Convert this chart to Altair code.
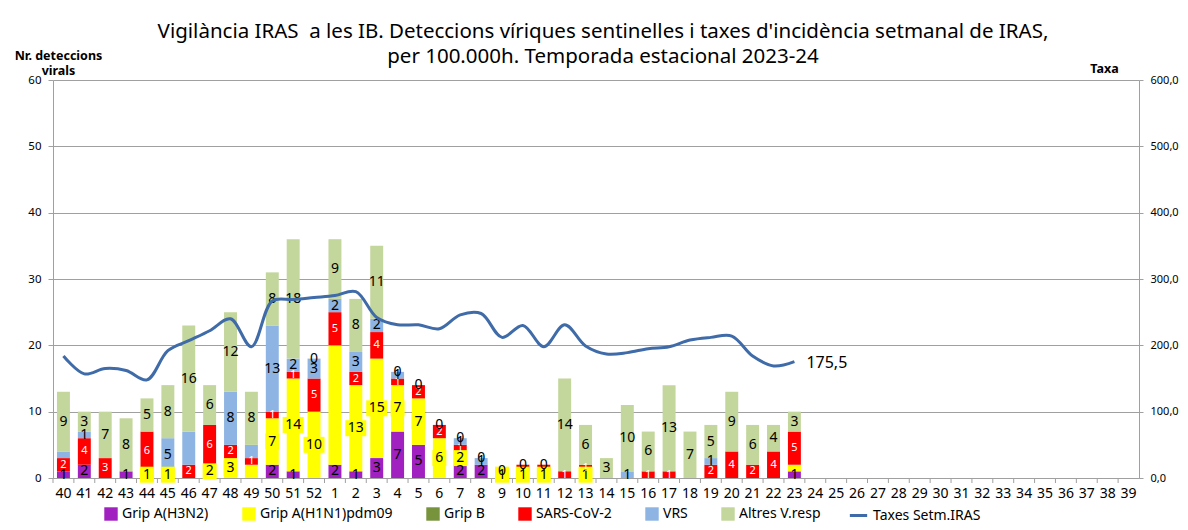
import altair as alt
import pandas as pd

# ---------------- data ----------------
weeks = [str(w) for w in list(range(40, 53)) + list(range(1, 40))]
data_weeks = weeks[:36]  # 40 .. 23

h3n2   = [1, 2, 0, 1, 0, 0, 0, 0, 0, 0, 2, 1, 0, 2, 1, 3, 7, 5, 0, 2, 2, 0, 0, 0, 0, 0, 0, 0, 0, 0, 0, 0, 0, 0, 0, 1]
h1n1   = [0, 0, 0, 0, 1, 1, 0, 2, 3, 2, 7, 14, 10, 18, 13, 15, 7, 7, 6, 2, 0, 1, 1, 1, 0, 1, 0, 0, 0, 0, 0, 0, 0, 0, 0, 1]
gripb  = [0] * 36
sars   = [2, 4, 3, 0, 6, 0, 2, 6, 2, 1, 1, 1, 5, 5, 2, 4, 1, 2, 2, 1, 0, 0, 1, 1, 1, 1, 0, 0, 1, 1, 0, 2, 4, 2, 4, 5]
vrs    = [1, 1, 0, 0, 0, 5, 5, 0, 8, 2, 13, 2, 3, 2, 3, 2, 1, 0, 0, 1, 1, 0, 0, 0, 0, 0, 0, 1, 0, 0, 0, 1, 0, 0, 0, 0]
altres = [9, 3, 7, 8, 5, 8, 16, 6, 12, 8, 8, 18, 0, 9, 8, 11, 0, 0, 0, 0, 0, 0, 0, 0, 14, 6, 3, 10, 6, 13, 7, 5, 9, 6, 4, 3]

taxes = [184, 157, 165, 162, 148, 192, 207, 222, 240, 198, 267, 269, 272, 275, 281, 242, 231, 231,
         225, 246, 248, 212, 230, 198, 231, 199, 187, 189, 195, 198, 208, 212, 214, 184, 169, 175.5]

series_names = ["Grip A(H3N2)", "Grip A(H1N1)pdm09", "Grip B", "SARS-CoV-2", "VRS", "Altres V.resp"]
series_colors = ["#A020C0", "#FFFF00", "#77933C", "#FF0000", "#8DB4E2", "#C3D69B"]
line_name = "Taxes Setm.IRAS"
line_color = "#3F6BA8"

# labels Excel did not show (hidden / covered)
hidden = {("40", "VRS"), ("46", "VRS"), ("49", "VRS"), ("1", "Grip A(H1N1)pdm09"), ("49", "Grip A(H1N1)pdm09"),
          ("23", "Grip A(H1N1)pdm09"), ("10", "SARS-CoV-2"), ("11", "SARS-CoV-2")}

title_lines = ["Vigilància IRAS \u00a0a les IB. Deteccions víriques sentinelles i taxes d'incidència setmanal de IRAS,",
               "per 100.000h. Temporada estacional 2023-24"]

# ---------------- tables ----------------
all_series = [h3n2, h1n1, gripb, sars, vrs, altres]
rows = []
for i, wk in enumerate(data_weeks):
    base = 0
    total = sum(s[i] for s in all_series)
    for name, s in zip(series_names, all_series):
        v = s[i]
        y0, y1 = base, base + v
        base = y1
        show = (v > 0 and (wk, name) not in hidden) or (name == "Altres V.resp" and v == 0 and total > 0)
        rows.append(dict(week=wk, serie=name, value=v, y0=y0, y1=y1, mid=(y0 + y1) / 2,
                         show=show, label=str(v),
                         tcolor="#FFFFFF" if name == "SARS-CoV-2" else "#000000",
                         tsize=11 if name == "SARS-CoV-2" else 14,
                         yellow=(name == "Grip A(H1N1)pdm09" and v > 0 and show),
                         ndig=str(len(str(v)))))
df = pd.DataFrame(rows)
bars_df = df[df.value > 0]
lab_df = df[df.show]
box_df = df[df.yellow]

rate_df = pd.DataFrame({"week": data_weeks, "rate": taxes, "name": line_name})
rate_df["txt"] = rate_df["rate"].map(lambda v: f"{v:.1f}".replace(".", ","))
last_df = rate_df.tail(1)
weeks_df = pd.DataFrame({"week": weeks})

W, H = 1086, 398
step = W / len(weeks)
FONT = "Noto Sans"
GRAY = "#A0A0A0"

xscale = alt.Scale(domain=weeks, paddingInner=0.38, paddingOuter=0.19)
x_axis = alt.Axis(title=None, labelAngle=0, ticks=False, tickSize=0, labelFontSize=14,
                  labelPadding=8, domainColor=GRAY, labelColor="#000", labelFont=FONT)
x_enc = alt.X("week:O", sort=weeks, scale=xscale, axis=x_axis)
yl = alt.Scale(domain=[0, 60])

left_axis = alt.Axis(values=list(range(0, 61, 10)), grid=True, gridColor=GRAY, domainColor=GRAY,
                     tickColor=GRAY, tickSize=5, labelFontSize=11.5, labelFont=FONT, labelColor="#000",
                     labelPadding=7, title=["Nr. deteccions", "virals"], titleAngle=0, titleX=5,
                     titleY=-21, titleAlign="center", titleBaseline="alphabetic", titleFontWeight="bold",
                     titleFontSize=12.5, titleFont=FONT, titleLineHeight=15, titleColor="#000")
right_axis = alt.Axis(orient="right", values=list(range(0, 601, 100)), grid=False, domainColor=GRAY,
                      tickColor=GRAY, tickSize=4, labelFontSize=11, labelFont=FONT, labelColor="#000",
                      labelPadding=7, labelExpr="replace(format(datum.value, '.1f'), '.', ',')",
                      title="Taxa", titleAngle=0, titleX=-35, titleY=-8, titleAlign="center",
                      titleBaseline="alphabetic", titleFontWeight="bold", titleFontSize=12.5,
                      titleFont=FONT, titleColor="#000")

bars = alt.Chart(bars_df).mark_bar().encode(
    x=x_enc,
    y=alt.Y("y0:Q", scale=yl, axis=left_axis),
    y2="y1:Q",
    color=alt.Color("serie:N", scale=alt.Scale(domain=series_names, range=series_colors),
                    legend=alt.Legend(orient="none", legendX=51, legendY=427, direction="horizontal",
                                      columns=6, title=None, symbolType="square", symbolSize=180,
                                      symbolStrokeWidth=0, labelFontSize=14, labelFont=FONT,
                                      labelColor="#000", columnPadding=33, labelOffset=4)),
)

ticks = alt.Chart(weeks_df).mark_rule(xOffset=-step / 2, color=GRAY).encode(
    x=x_enc, y=alt.value(H), y2=alt.value(H + 5))

box_path1 = "M-0.875,-1H0.875V1H-0.875Z"
box_path2 = "M-1.3125,-1H1.3125V1H-1.3125Z"
boxes = alt.Chart(box_df).mark_point(filled=True, opacity=1, fill="#FFFF00", strokeWidth=0, size=256).encode(
    x=x_enc,
    y=alt.Y("mid:Q", scale=yl, axis=None),
    shape=alt.Shape("ndig:N", scale=alt.Scale(domain=["1", "2"], range=[box_path1, box_path2]), legend=None),
)

labels = alt.Chart(lab_df).mark_text(baseline="middle", align="center", font=FONT).encode(
    x=x_enc,
    y=alt.Y("mid:Q", scale=yl, axis=None),
    text="label:N",
    color=alt.Color("tcolor:N", scale=None),
    size=alt.Size("tsize:Q", scale=None),
)

yr = alt.Scale(domain=[0, 600])
line = alt.Chart(rate_df).mark_line(interpolate="catmull-rom", strokeWidth=3).encode(
    x=x_enc,
    y=alt.Y("rate:Q", scale=yr, axis=right_axis),
    stroke=alt.Stroke("name:N", scale=alt.Scale(domain=[line_name], range=[line_color]),
                      legend=alt.Legend(orient="none", legendX=795, legendY=425, title=None,
                                        symbolType="stroke", symbolStrokeWidth=3, symbolSize=300,
                                        labelFontSize=14, labelFont=FONT, labelColor="#000")),
)

end_label = alt.Chart(last_df).mark_text(align="left", baseline="middle", dx=12, dy=1, fontSize=16,
                                         font=FONT, color="#000").encode(
    x=x_enc, y=alt.Y("rate:Q", scale=yr, axis=None), text="txt:N")

chart = alt.layer(bars, ticks, boxes, labels, line, end_label).resolve_scale(
    y="independent"
).properties(
    width=W, height=H,
    title=alt.Title(text=title_lines, fontSize=20.5, font=FONT, fontWeight="normal", anchor="middle",
                    frame="group", offset=-18, dx=7, lineHeight=25, color="#000"),
    autosize=alt.AutoSizeParams(type="none"),
    padding={"left": 45, "top": 72, "right": 41, "bottom": 44},
).configure_view(stroke=None).configure(background="white")

chart.save("out.html", embed_options={"renderer": "svg", "actions": False})
